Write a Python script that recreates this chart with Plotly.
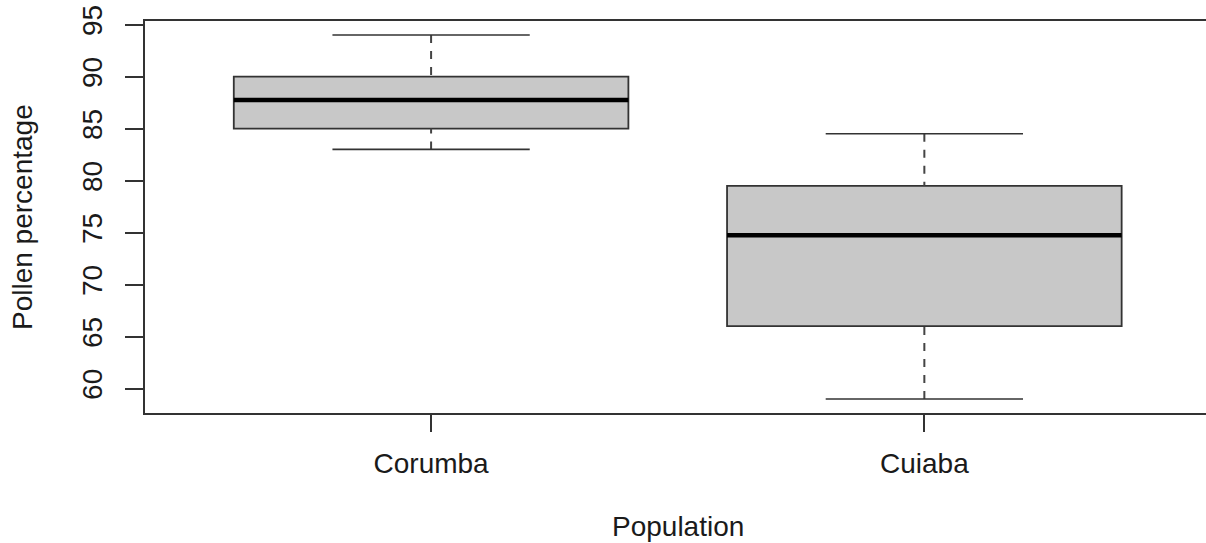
import plotly.graph_objects as go

# ---- data ----
categories = ["Corumba", "Cuiaba"]
lower_whisker = [83.0, 59.0]
q1_values = [85.0, 66.0]
median_values = [87.75, 74.75]
q3_values = [90.0, 79.5]
upper_whisker = [94.0, 84.5]
y_tick_values = [60, 65, 70, 75, 80, 85, 90, 95]

# ---- style ----
FONT = "Liberation Sans, Arial, Helvetica, sans-serif"
TEXT_COLOR = "#1a1a1a"
LINE_COLOR = "#333333"
BOX_FILL = "#C8C8C8"
BOX_WIDTH = 0.8
CAP_FRACTION = 0.5
FONT_SIZE = 28

positions = list(range(1, len(categories) + 1))

fig = go.Figure()

for pos, name, lo, q1, med, q3, hi in zip(positions, categories, lower_whisker,
                                          q1_values, median_values, q3_values,
                                          upper_whisker):
    # dashed whiskers (drawn from whisker end toward the box, like R)
    for fence, edge in ((hi, q3), (lo, q1)):
        fig.add_trace(go.Scatter(
            x=[pos, pos], y=[fence, edge], mode="lines",
            line=dict(color="#444444", width=2, dash="8px,8px"),
            showlegend=False, hoverinfo="skip"))
    # box
    fig.add_trace(go.Box(
        x=[pos], q1=[q1], median=[med], q3=[q3],
        lowerfence=[q1], upperfence=[q3],
        width=BOX_WIDTH, whiskerwidth=0,
        fillcolor=BOX_FILL, line=dict(color=LINE_COLOR, width=1.8),
        name=name, showlegend=False, boxpoints=False, hoverinfo="skip"))
    # staples
    half_cap = BOX_WIDTH * CAP_FRACTION / 2
    for fence in (hi, lo):
        fig.add_trace(go.Scatter(
            x=[pos - half_cap, pos + half_cap], y=[fence, fence], mode="lines",
            line=dict(color=LINE_COLOR, width=1.6),
            showlegend=False, hoverinfo="skip"))
    # thick median
    half_box = BOX_WIDTH / 2
    fig.add_trace(go.Scatter(
        x=[pos - half_box, pos + half_box], y=[med, med], mode="lines",
        line=dict(color="black", width=4.5),
        showlegend=False, hoverinfo="skip"))

fig.update_layout(
    width=1206, height=543,
    margin=dict(l=145, r=0, t=21, b=130, pad=0),
    paper_bgcolor="white", plot_bgcolor="white",
    font=dict(family=FONT, size=FONT_SIZE, color=TEXT_COLOR),
    showlegend=False,
    xaxis=dict(
        range=[0.42, 2.571], tickmode="array", tickvals=positions,
        ticktext=categories, ticks="outside", ticklen=17, tickwidth=1.5,
        tickcolor=LINE_COLOR, showline=True, linecolor=LINE_COLOR,
        linewidth=1.6, mirror=True, showgrid=False, zeroline=False,
        ticklabelstandoff=8,
        tickfont=dict(family=FONT, size=FONT_SIZE, color=TEXT_COLOR)),
    yaxis=dict(
        range=[57.65, 95.35], tickmode="array", tickvals=y_tick_values,
        ticktext=[str(v) for v in y_tick_values], ticks="outside",
        ticklen=18, tickwidth=1.5, tickcolor=LINE_COLOR, tickangle=-90,
        showline=True, linecolor=LINE_COLOR, linewidth=1.6, mirror=False,
        showgrid=False, zeroline=False, ticklabelstandoff=12,
        tickfont=dict(family=FONT, size=FONT_SIZE, color=TEXT_COLOR)),
    annotations=[
        dict(text="Population", xref="paper", yref="paper", x=0.5, y=0,
             xanchor="center", yanchor="middle", xshift=2, yshift=-113,
             showarrow=False,
             font=dict(family=FONT, size=FONT_SIZE, color=TEXT_COLOR)),
        dict(text="Pollen percentage", xref="paper", yref="paper", x=0,
             y=0.5, xanchor="center", yanchor="middle", xshift=-123,
             textangle=-90, showarrow=False,
             font=dict(family=FONT, size=FONT_SIZE, color=TEXT_COLOR)),
    ],
)

fig.write_html(
    "out.html",
    config={"displayModeBar": False},
    post_script="document.body.style.margin='0';document.body.style.overflow='hidden';",
)
